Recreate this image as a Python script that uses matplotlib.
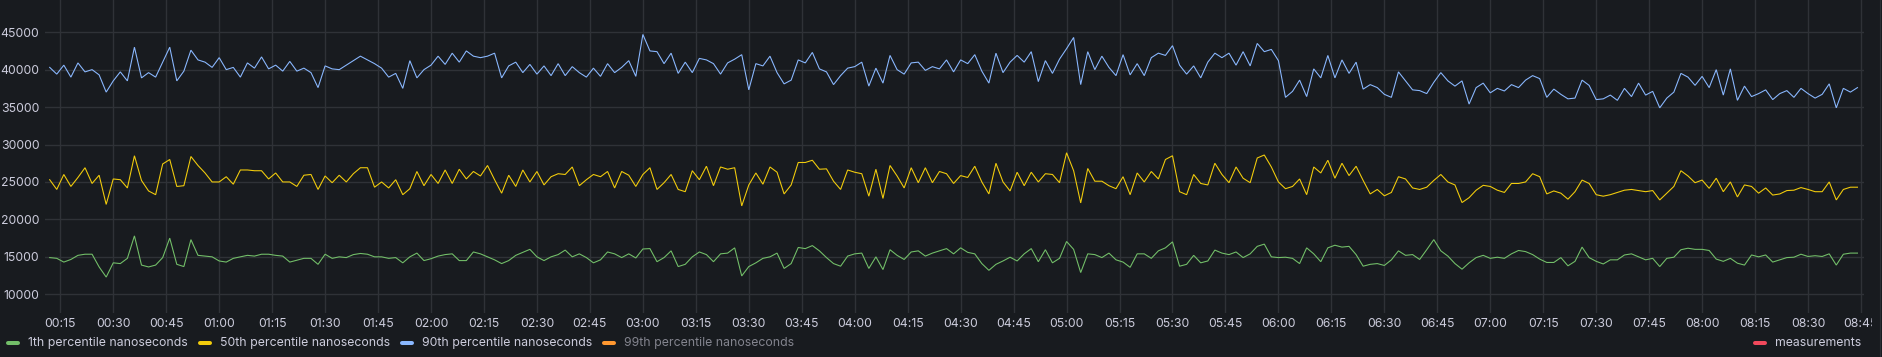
import numpy as np
import matplotlib
matplotlib.use("Agg")
import matplotlib.pyplot as plt
from matplotlib.ticker import FixedLocator, FuncFormatter
from matplotlib.lines import Line2D
from matplotlib.transforms import Bbox, TransformedBbox

plt.rcParams['font.family'] = ['Inter', 'DejaVu Sans']

# ---------------- data (minutes since 00:00, 2-minute samples from 00:12) ----------------
start_minute = 12
step_minutes = 2

# 1th percentile (thousands of ns)
p1_h0 = [14.9, 14.8, 14.3, 14.65, 15.2, 15.35, 15.35, 13.65, 12.3, 14.2, 14.1, 14.8, 17.8, 13.9, 13.65, 13.9, 14.9, 17.5, 14.0, 13.7, 17.3, 15.2, 15.1, 15.0]
p1_h1 = [14.45, 14.3, 14.8, 15.0, 15.2, 15.1, 15.35, 15.35, 15.2, 15.1, 14.3, 14.55, 14.8, 14.8, 14.0, 15.35, 14.8, 15.0, 14.9, 15.3, 15.45, 15.35, 15.0, 15.0, 14.8, 14.9, 14.2, 15.0, 15.5, 14.5]
p1_h2 = [14.75, 15.1, 15.3, 15.4, 14.5, 14.5, 15.65, 15.4, 15.0, 14.6, 14.1, 14.5, 15.2, 15.6, 16.0, 15.0, 14.5, 15.0, 15.3, 15.9, 15.0, 15.4, 14.9, 14.2, 14.6, 15.65, 15.4, 14.9, 15.4, 14.85]
p1_h3 = [16.05, 16.1, 14.35, 14.9, 15.8, 13.7, 14.0, 15.0, 15.65, 15.3, 14.35, 15.4, 15.5, 16.2, 12.45, 13.7, 14.2, 14.8, 15.0, 15.5, 13.45, 14.1, 16.25, 16.1, 16.5, 15.8, 14.9, 14.1, 13.75, 15.1]
p1_h4 = [15.4, 15.5, 13.45, 15.0, 13.3, 15.95, 15.2, 14.65, 15.65, 15.8, 15.1, 15.5, 15.8, 16.1, 15.4, 16.2, 15.6, 15.4, 14.1, 13.2, 14.0, 14.45, 14.95, 14.45, 15.4, 16.1, 14.35, 15.95, 14.2, 14.8]
p1_h5 = [17.05, 16.0, 12.9, 15.4, 15.3, 14.9, 15.5, 14.6, 14.3, 13.6, 15.4, 15.4, 14.8, 15.8, 16.2, 17.0, 13.75, 14.0, 15.2, 14.2, 14.45, 15.9, 15.5, 15.3, 15.65, 14.9, 15.4, 16.4, 16.7, 15.0]
p1_h6 = [14.9, 14.95, 14.8, 14.1, 16.2, 15.4, 14.35, 16.2, 16.55, 16.3, 16.4, 15.3, 13.75, 14.0, 14.1, 13.85, 14.6, 15.8, 15.2, 15.3, 14.65, 15.95, 17.3, 15.8, 15.1, 14.1, 13.35, 14.2, 14.9, 15.2]
p1_h7 = [14.8, 14.95, 14.8, 15.4, 15.85, 15.7, 15.3, 14.7, 14.25, 14.25, 14.9, 13.8, 14.4, 16.3, 14.9, 14.4, 14.05, 14.6, 14.6, 15.25, 15.4, 15.0, 14.6, 14.8, 13.7, 14.8, 14.95, 15.95, 16.15, 16.0]
p1_h8 = [16.0, 15.85, 14.7, 14.4, 14.8, 14.15, 13.9, 15.25, 15.0, 15.25, 14.3, 14.6, 14.9, 14.95, 15.35, 15.05, 15.15, 15.05, 15.4, 13.9, 15.35, 15.5, 15.5]

# 50th percentile (thousands of ns)
p50_h0 = [25.3, 24.0, 26.0, 24.4, 25.6, 26.9, 24.8, 25.9, 22.0, 25.4, 25.3, 24.2, 28.5, 25.2, 23.8, 23.3, 27.4, 28.0, 24.4, 24.5, 28.4, 27.2, 26.2, 25.0]
p50_h1 = [25.0, 25.7, 24.7, 26.6, 26.6, 26.5, 26.5, 25.4, 26.2, 25.0, 25.0, 24.4, 25.9, 26.0, 24.0, 25.8, 24.9, 25.9, 25.0, 26.1, 26.9, 26.9, 24.3, 25.0, 24.2, 25.3, 23.3, 24.1, 26.4, 24.5]
p50_h2 = [26.0, 24.8, 26.6, 24.8, 26.7, 25.4, 26.4, 25.8, 27.2, 25.3, 23.5, 25.9, 24.4, 26.6, 25.0, 26.4, 24.6, 25.7, 26.1, 26.0, 27.0, 24.5, 25.3, 26.0, 25.7, 26.4, 24.2, 26.4, 25.9, 24.4]
p50_h3 = [26.0, 26.9, 24.0, 24.9, 26.0, 24.0, 23.7, 26.5, 25.3, 27.1, 24.5, 27.0, 26.7, 26.9, 21.8, 24.6, 26.2, 24.7, 27.0, 26.3, 23.4, 24.6, 27.6, 27.6, 27.9, 26.7, 26.75, 25.1, 24.0, 26.6]
p50_h4 = [26.3, 26.1, 23.1, 26.7, 22.8, 27.2, 25.8, 24.2, 26.9, 24.9, 26.9, 24.9, 26.4, 26.1, 24.8, 25.85, 25.6, 27.1, 25.0, 23.4, 27.5, 25.0, 23.8, 26.3, 24.5, 26.3, 25.0, 26.1, 26.0, 24.9]
p50_h5 = [28.9, 26.5, 22.2, 26.8, 25.1, 25.1, 24.5, 24.1, 25.7, 23.3, 26.2, 25.0, 26.4, 25.4, 28.0, 28.5, 23.7, 23.3, 26.0, 24.8, 24.6, 27.5, 26.0, 24.9, 27.0, 25.5, 24.9, 28.2, 28.6, 27.0]
p50_h6 = [25.0, 24.1, 24.4, 25.4, 23.3, 27.0, 26.2, 27.9, 25.5, 27.5, 25.85, 27.1, 25.2, 23.4, 24.0, 23.15, 23.6, 25.7, 25.4, 24.2, 24.0, 24.3, 25.2, 26.0, 25.0, 24.6, 22.25, 22.9, 23.9, 24.55]
p50_h7 = [24.4, 23.9, 23.6, 24.8, 24.8, 25.0, 26.1, 25.7, 23.4, 23.8, 23.5, 22.7, 23.7, 25.25, 24.8, 23.3, 23.1, 23.3, 23.6, 23.9, 24.0, 23.85, 23.7, 23.85, 22.6, 23.5, 24.4, 26.5, 25.8, 24.9]
p50_h8 = [25.25, 24.15, 25.5, 23.7, 25.0, 23.0, 24.6, 24.4, 23.5, 24.2, 23.25, 23.4, 23.85, 23.9, 24.25, 24.0, 23.7, 23.7, 25.0, 22.6, 24.0, 24.3, 24.3]

# 90th percentile (thousands of ns)
p90_h0 = [40.3, 39.4, 40.6, 39.0, 40.9, 39.7, 40.0, 39.3, 37.0, 38.5, 39.7, 38.5, 43.0, 38.9, 39.6, 39.0, 41.0, 43.0, 38.5, 39.8, 42.6, 41.3, 41.0, 40.3]
p90_h1 = [41.6, 40.0, 40.3, 39.0, 40.9, 40.2, 41.7, 40.1, 40.6, 39.8, 41.1, 39.8, 40.2, 39.6, 37.6, 40.5, 40.1, 40.0, 40.6, 41.2, 41.8, 41.3, 40.8, 40.2, 39.0, 39.5, 37.5, 41.2, 38.9, 40.0]
p90_h2 = [40.6, 41.8, 40.7, 42.2, 41.0, 42.5, 41.8, 41.6, 41.8, 42.2, 38.9, 40.5, 41.0, 39.6, 40.7, 39.4, 40.5, 39.2, 40.8, 39.2, 40.4, 39.6, 39.0, 40.2, 39.1, 40.8, 39.6, 40.3, 41.2, 39.1]
p90_h3 = [44.7, 42.5, 42.4, 40.8, 42.2, 39.5, 41.0, 39.6, 41.5, 41.3, 40.8, 39.4, 40.9, 41.4, 42.0, 37.3, 40.8, 40.5, 41.8, 39.6, 38.1, 38.6, 41.3, 40.9, 42.3, 40.1, 39.7, 38.0, 39.2, 40.2]
p90_h4 = [40.4, 41.0, 37.8, 40.2, 38.2, 41.9, 40.0, 39.4, 40.9, 41.0, 39.9, 40.4, 40.1, 41.3, 39.7, 41.3, 40.8, 42.0, 39.8, 38.2, 42.2, 39.6, 41.0, 41.9, 41.0, 42.4, 38.4, 41.2, 39.5, 41.4]
p90_h5 = [42.8, 44.3, 38.0, 42.4, 40.0, 41.8, 40.3, 39.2, 42.0, 39.3, 40.8, 39.2, 41.6, 42.2, 41.9, 43.2, 40.6, 39.4, 40.5, 38.9, 41.0, 42.2, 41.6, 42.2, 40.6, 42.4, 40.5, 43.5, 42.4, 42.7]
p90_h6 = [41.2, 36.3, 37.1, 38.6, 36.4, 40.1, 38.9, 41.9, 38.9, 41.3, 39.5, 41.0, 37.4, 38.0, 37.6, 36.7, 36.3, 39.7, 38.5, 37.3, 37.2, 36.8, 38.3, 39.6, 38.5, 37.8, 38.5, 35.4, 37.6, 38.2]
p90_h7 = [36.9, 37.5, 37.15, 38.0, 37.6, 38.6, 39.2, 38.8, 36.3, 37.4, 36.7, 36.1, 36.2, 38.6, 37.9, 36.0, 36.1, 36.6, 35.9, 37.5, 36.4, 38.2, 36.6, 37.1, 34.9, 36.2, 37.0, 39.5, 39.0, 37.9]
p90_h8 = [39.1, 37.6, 40.0, 36.6, 40.1, 35.9, 37.8, 36.4, 36.8, 37.3, 36.0, 36.8, 37.2, 36.3, 37.5, 36.8, 36.2, 36.7, 38.1, 34.9, 37.5, 37.0, 37.6]

p1 = p1_h0 + p1_h1 + p1_h2 + p1_h3 + p1_h4 + p1_h5 + p1_h6 + p1_h7 + p1_h8
p50 = p50_h0 + p50_h1 + p50_h2 + p50_h3 + p50_h4 + p50_h5 + p50_h6 + p50_h7 + p50_h8
p90 = p90_h0 + p90_h1 + p90_h2 + p90_h3 + p90_h4 + p90_h5 + p90_h6 + p90_h7 + p90_h8

series_names = ['1th percentile nanoseconds', '50th percentile nanoseconds',
                '90th percentile nanoseconds', '99th percentile nanoseconds']
right_legend_name = 'measurements'
y_ticks = [10000, 15000, 20000, 25000, 30000, 35000, 40000, 45000]
x_tick_minutes = list(range(15, 526, 15))

# ---------------- style ----------------
BG = '#181b1f'
GRID = '#2f3237'
TEXT = '#ccccdc'
DIM = '#83848e'
C_GREEN = '#73BF69'
C_YELLOW = '#F2CC0C'
C_BLUE = '#8AB8FF'
C_ORANGE = '#FF9830'
C_RED = '#F2495C'
FS = 8.85

W, H = 1883, 357
fig = plt.figure(figsize=(W / 100, H / 100), dpi=100, facecolor=BG)
ax = fig.add_axes([45 / W, 44 / H, (1864 - 45) / W, 1 - 44 / H])
ax.set_facecolor(BG)

n = len(p1)
t = start_minute + step_minutes * np.arange(n)
for vals, col in [(p1, C_GREEN), (p50, C_YELLOW), (p90, C_BLUE)]:
    ax.plot(t, np.array(vals) * 1000, color=col, lw=0.78, solid_joinstyle='miter')

ax.set_xlim(10.67, 525.85)
ax.set_ylim(7500, 49300)
ax.xaxis.set_major_locator(FixedLocator(x_tick_minutes))
ax.xaxis.set_major_formatter(FuncFormatter(lambda m, p: f"{int(round(m)) // 60:02d}:{int(round(m)) % 60:02d}"))
ax.yaxis.set_major_locator(FixedLocator(y_ticks))
ax.yaxis.set_major_formatter(FuncFormatter(lambda v, p: f"{int(v)}"))

for s in ax.spines.values():
    s.set_visible(False)
ax.grid(True, color=GRID, lw=1.0)
ax.set_axisbelow(True)
ax.tick_params(axis='both', length=0, colors=TEXT, labelsize=FS)
ax.tick_params(axis='x', pad=3.5)
ax.tick_params(axis='y', pad=4.0)

clip = TransformedBbox(Bbox.from_extents(0, 0, 1872 / W, 1), fig.transFigure)
for lbl in ax.get_xticklabels():
    lbl.set_clip_box(clip)
    lbl.set_clip_on(True)

# ---------------- legend ----------------
renderer = fig.canvas.get_renderer()
ly = 1 - 343 / H
x = 6
colors = [C_GREEN, C_YELLOW, C_BLUE, C_ORANGE]
for i, (name, col) in enumerate(zip(series_names, colors)):
    fig.add_artist(Line2D([(x + 2) / W, (x + 12) / W], [ly, ly], transform=fig.transFigure,
                          color=col, lw=2.9, solid_capstyle='round'))
    tx = x + 22
    txt = fig.text(tx / W, ly, name, color=(DIM if i == 3 else TEXT), fontsize=FS,
                   va='center', ha='left')
    w = txt.get_window_extent(renderer).width
    x = tx + w + 10

mt = fig.text(1861 / W, ly, right_legend_name, color=TEXT, fontsize=FS, va='center', ha='right')
mw = mt.get_window_extent(renderer).width
sx = 1861 - mw - 22
fig.add_artist(Line2D([(sx + 2) / W, (sx + 12) / W], [ly, ly], transform=fig.transFigure,
                      color=C_RED, lw=2.9, solid_capstyle='round'))

# right panel edge
fig.add_artist(Line2D([1880.5 / W, 1880.5 / W], [0, 1], transform=fig.transFigure, color='#2c2f35', lw=0.8))

fig.savefig('out.png', dpi=100, facecolor=BG)
